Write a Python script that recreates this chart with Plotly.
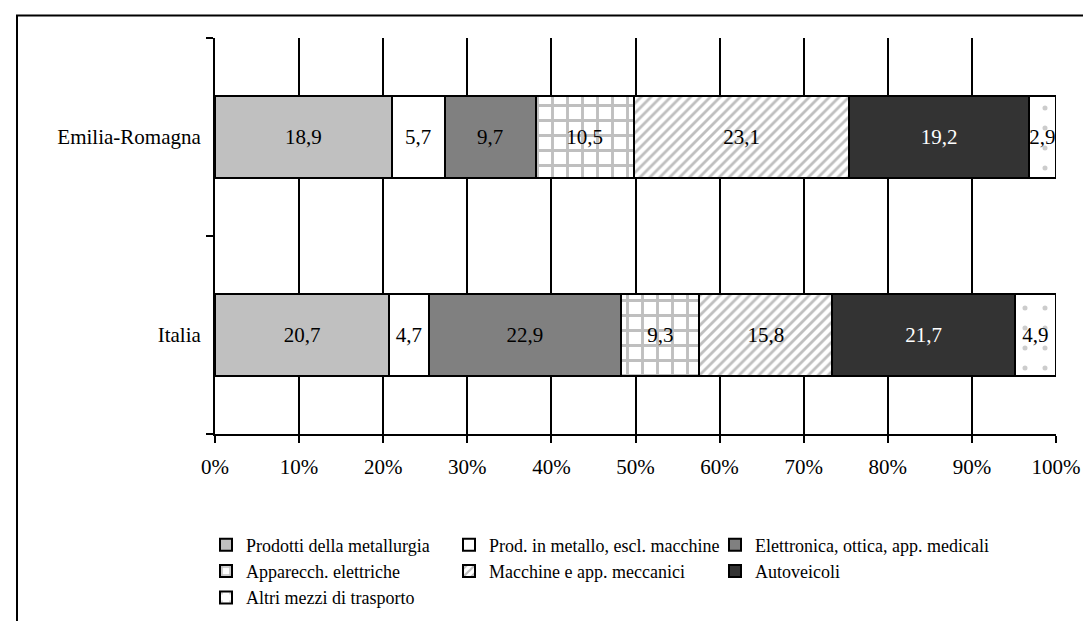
import plotly.graph_objects as go

# Regioni (Italia in basso, Emilia-Romagna in alto)
regioni = ['Italia', 'Emilia-Romagna']

# Quote per settore
metallurgia = [20.7, 18.9]
metallo = [4.7, 5.7]
elettronica = [22.9, 9.7]
elettriche = [9.3, 10.5]
macchine = [15.8, 23.1]
autoveicoli = [21.7, 19.2]
altri_mezzi = [4.9, 2.9]

nomi = ['Prodotti della metallurgia', 'Prod. in metallo, escl. macchine',
        'Elettronica, ottica, app. medicali', 'Apparecch. elettriche',
        'Macchine e app. meccanici', 'Autoveicoli', 'Altri mezzi di trasporto']
serie = [metallurgia, metallo, elettronica, elettriche, macchine, autoveicoli, altri_mezzi]

FONT = 'Liberation Serif'

# stile di ogni serie: colore, pattern, colore testo, legenda
stili = [
    dict(color='#c0c0c0', pattern=None, txt='black', leg='legend'),
    dict(color='white', pattern=None, txt='black', leg='legend2'),
    dict(color='#808080', pattern=None, txt='black', leg='legend3'),
    dict(color='white', pattern=dict(shape='+', fgcolor='#808080', bgcolor='white', size=15, solidity=0.35),
         txt='black', leg='legend'),
    dict(color='white', pattern=dict(shape='/', fgcolor='#808080', bgcolor='white', size=7, solidity=0.4),
         txt='black', leg='legend2'),
    dict(color='#333333', pattern=None, txt='white', leg='legend3'),
    dict(color='white', pattern=dict(shape='.', fgcolor='#999999', bgcolor='white', size=20, solidity=0.05),
         txt='black', leg='legend'),
]

fig = go.Figure()
for nome, valori, st in zip(nomi, serie, stili):
    marker = dict(color=st['color'], line=dict(color='black', width=2))
    if st['pattern']:
        marker['pattern'] = st['pattern']
    fig.add_trace(go.Bar(
        y=regioni, x=valori, name=nome, orientation='h',
        marker=marker,
        text=[f'{v:.1f}'.replace('.', ',') for v in valori],
        textposition='inside', insidetextanchor='middle', textangle=0,
        textfont=dict(family=FONT, size=21, color=st['txt']),
        legend=st['leg'],
    ))

def px_x(p):
    return (p - 207) / 841

def px_y(p):
    return (437 - p) / 407

leg_comune = dict(orientation='v', yanchor='top', xanchor='left', bgcolor='rgba(0,0,0,0)',
                  traceorder='normal', tracegroupgap=0,
                  font=dict(family=FONT, size=18, color='black'))

fig.update_layout(
    width=1091, height=621,
    margin=dict(l=207, r=43, t=30, b=184),
    barmode='stack', barnorm='percent', bargap=0.59,
    plot_bgcolor='white', paper_bgcolor='white',
    font=dict(family=FONT, size=21, color='black'),
    uniformtext=dict(mode='show', minsize=21),
    legend=dict(x=px_x(198), y=px_y(532), **leg_comune),
    legend2=dict(x=px_x(441), y=px_y(532), **leg_comune),
    legend3=dict(x=px_x(707), y=px_y(532), **leg_comune),
    xaxis=dict(range=[0, 100], dtick=10, ticksuffix='%', showgrid=True, gridcolor='black', gridwidth=2,
               showline=True, linecolor='black', linewidth=2, ticks='outside', ticklen=7,
               tickcolor='black', tickwidth=2, zeroline=False, ticklabelstandoff=6),
    yaxis=dict(range=[-0.5, 1.5], tickson='boundaries', ticks='outside', ticklen=7, tickcolor='black',
               tickwidth=2, showline=True, linecolor='black', linewidth=2, showgrid=False,
               ticklabelstandoff=8),
)

# cornice esterna
fig.add_shape(type='rect', xref='paper', yref='paper',
              x0=px_x(9), x1=px_x(1082), y0=px_y(660), y1=px_y(7),
              line=dict(color='black', width=2), layer='above')

fig.write_html('out.html')
